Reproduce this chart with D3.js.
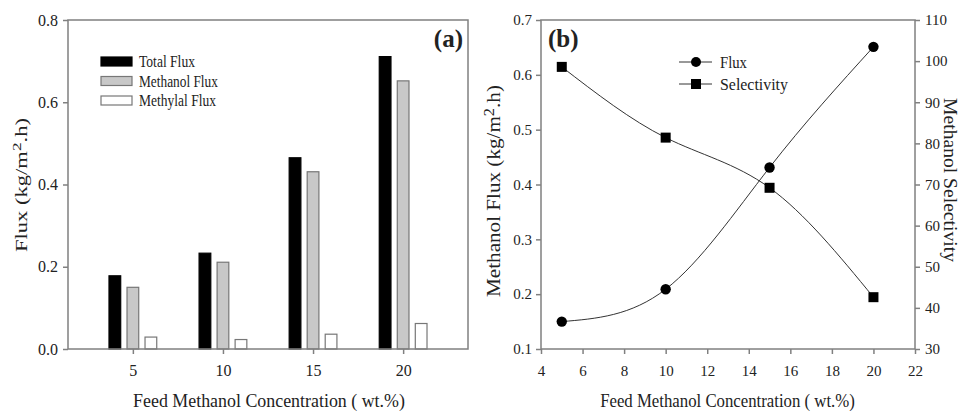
<!DOCTYPE html>
<html>
<head>
<meta charset="utf-8">
<script src="https://cdn.jsdelivr.net/npm/d3@7"></script>
<style>
  html, body { margin: 0; padding: 0; background: #fff; }
  svg { display: block; }
  text { font-family: "Liberation Serif", "Times New Roman", serif; fill: #222; }
</style>
</head>
<body>
<svg id="chart" width="964" height="413"></svg>
<script>
// ---------- DATA ----------
const concentrations = [5, 10, 15, 20];
const totalFlux    = [0.178, 0.233, 0.465, 0.711];
const methanolFlux = [0.150, 0.211, 0.431, 0.652];
const methylalFlux = [0.029, 0.023, 0.036, 0.062];
const fluxB        = [0.150, 0.209, 0.431, 0.651];
const selectivity  = [98.6, 81.4, 69.2, 42.6];
const barSeriesNames = ["Total Flux", "Methanol Flux", "Methylal Flux"];
const lineSeriesNames = ["Flux", "Selectivity"];
const ticksAY = [0.0, 0.2, 0.4, 0.6, 0.8];
const ticksAX = [5, 10, 15, 20];
const ticksBX = [4, 6, 8, 10, 12, 14, 16, 18, 20, 22];
const ticksBYL = [0.1, 0.2, 0.3, 0.4, 0.5, 0.6, 0.7];
const ticksBYR = [30, 40, 50, 60, 70, 80, 90, 100, 110];

const svg = d3.select("#chart");
const axisColor = "#808080";
const fmt1 = d3.format(".1f");

function styleAxis(size) {
  return function (g) {
    g.select(".domain").remove();
    g.selectAll(".tick line").attr("stroke", axisColor).attr("stroke-width", 1.5);
    g.selectAll(".tick text").style("font-size", size + "px")
      .style("font-family", '"Liberation Serif", serif').attr("fill", "#222");
  };
}

// place text at (x,y) with rotation, stretched along its direction to a target length
function fitText(sel, x, y, rot, target) {
  const n = sel.node().getComputedTextLength();
  const s = target / n;
  sel.attr("transform", `translate(${x},${y}) rotate(${rot}) scale(${s},1)`);
  return sel;
}

// ---------- PANEL A ----------
const A = { left: 68, right: 468, top: 20, bottom: 349 };
const xA = d3.scaleLinear().domain([1.4, 23.6]).range([A.left, A.right]);
const yA = d3.scaleLinear().domain([0, 0.8]).range([A.bottom, A.top]);
const barW = 0.65; // in x units
const barOffsets = [-1, 0, 1];
const barFills = ["#000000", "#c8c8c8", "#ffffff"];
const barStrokes = ["#000000", "#777777", "#777777"];
const barData = [totalFlux, methanolFlux, methylalFlux];

const gA = svg.append("g");
barData.forEach((vals, si) => {
  gA.selectAll(null).data(concentrations).enter().append("rect")
    .attr("x", (c) => xA(c + barOffsets[si] - barW / 2))
    .attr("width", (c) => xA(c + barOffsets[si] + barW / 2) - xA(c + barOffsets[si] - barW / 2))
    .attr("y", (c, i) => yA(vals[i]))
    .attr("height", (c, i) => yA(0) - yA(vals[i]))
    .attr("fill", barFills[si])
    .attr("stroke", barStrokes[si])
    .attr("stroke-width", 1.2);
});

gA.append("rect").attr("x", A.left).attr("y", A.top)
  .attr("width", A.right - A.left).attr("height", A.bottom - A.top)
  .attr("fill", "none").attr("stroke", axisColor).attr("stroke-width", 1.5);

gA.append("g").attr("transform", `translate(${A.left},0)`)
  .call(d3.axisLeft(yA).tickValues(ticksAY).tickFormat(fmt1).tickSize(5).tickPadding(5))
  .call(styleAxis(16));
gA.append("g").attr("transform", `translate(0,${A.bottom})`)
  .call(d3.axisBottom(xA).tickValues(ticksAX).tickFormat(d3.format("d")).tickSize(5).tickPadding(11))
  .call(styleAxis(16));

// legend A
const legA = gA.append("g");
const legAWidths = [56, 79, 77];
barSeriesNames.forEach((name, i) => {
  const y0 = 57 + i * 19.5;
  legA.append("rect").attr("x", 101).attr("y", y0).attr("width", 31).attr("height", 9)
    .attr("fill", barFills[i]).attr("stroke", barStrokes[i]).attr("stroke-width", 1.2);
  const t = legA.append("text").style("font-size", "17px").text(name);
  fitText(t, 139, y0 + 10, 0, legAWidths[i]);
});

gA.append("text").attr("x", 463).attr("y", 47).attr("text-anchor", "end")
  .style("font-size", "25px").style("font-weight", "bold").attr("fill", "#000").text("(a)");

// titles A
fitText(gA.append("text").attr("text-anchor", "middle").style("font-size", "19px")
  .text("Feed Methanol Concentration ( wt.%)"), 269, 407, 0, 272);
const tyA = gA.append("text").attr("text-anchor", "middle").style("font-size", "17px");
tyA.append("tspan").text("Flux (kg/m");
tyA.append("tspan").attr("dy", -6).style("font-size", "13px").text("2");
tyA.append("tspan").attr("dy", 6).text(".h)");
fitText(tyA, 27, 185, -90, 134);

// ---------- PANEL B ----------
const B = { left: 541, right: 915, top: 20, bottom: 349 };
const xB = d3.scaleLinear().domain([4, 22]).range([B.left, B.right]);
const yBL = d3.scaleLinear().domain([0.1, 0.7]).range([B.bottom, B.top]);
const yBR = d3.scaleLinear().domain([30, 110]).range([B.bottom, B.top]);
const gB = svg.append("g");

gB.append("rect").attr("x", B.left).attr("y", B.top)
  .attr("width", B.right - B.left).attr("height", B.bottom - B.top)
  .attr("fill", "none").attr("stroke", axisColor).attr("stroke-width", 1.5);

gB.append("g").attr("transform", `translate(${B.left},0)`)
  .call(d3.axisLeft(yBL).tickValues(ticksBYL).tickFormat(fmt1).tickSize(5).tickPadding(4))
  .call(styleAxis(15));
gB.append("g").attr("transform", `translate(${B.right},0)`)
  .call(d3.axisRight(yBR).tickValues(ticksBYR).tickFormat(d3.format("d")).tickSize(5).tickPadding(5))
  .call(styleAxis(15));
gB.append("g").attr("transform", `translate(0,${B.bottom})`)
  .call(d3.axisBottom(xB).tickValues(ticksBX).tickFormat(d3.format("d")).tickSize(5).tickPadding(11))
  .call(styleAxis(15));

const lineL = d3.line().x((d, i) => xB(concentrations[i])).y((d) => yBL(d)).curve(d3.curveNatural);
const lineR = d3.line().x((d, i) => xB(concentrations[i])).y((d) => yBR(d)).curve(d3.curveNatural);
gB.append("path").attr("d", lineL(fluxB)).attr("fill", "none").attr("stroke", "#333").attr("stroke-width", 1);
gB.append("path").attr("d", lineR(selectivity)).attr("fill", "none").attr("stroke", "#333").attr("stroke-width", 1);

gB.selectAll(null).data(fluxB).enter().append("circle")
  .attr("cx", (d, i) => xB(concentrations[i])).attr("cy", (d) => yBL(d)).attr("r", 5.2).attr("fill", "#000");
gB.selectAll(null).data(selectivity).enter().append("rect")
  .attr("x", (d, i) => xB(concentrations[i]) - 5).attr("y", (d) => yBR(d) - 5)
  .attr("width", 10).attr("height", 10).attr("fill", "#000");

// legend B
const legB = gB.append("g");
const legBWidths = [27, 68];
lineSeriesNames.forEach((name, i) => {
  const y0 = 62 + i * 22;
  legB.append("line").attr("x1", 679).attr("x2", 712).attr("y1", y0).attr("y2", y0)
    .attr("stroke", "#333").attr("stroke-width", 1);
  if (i === 0) legB.append("circle").attr("cx", 696).attr("cy", y0).attr("r", 5).attr("fill", "#000");
  else legB.append("rect").attr("x", 691).attr("y", y0 - 5).attr("width", 10).attr("height", 10).attr("fill", "#000");
  const t = legB.append("text").style("font-size", "17px").text(name);
  fitText(t, 720, y0 + 6, 0, legBWidths[i]);
});

gB.append("text").attr("x", 548).attr("y", 47)
  .style("font-size", "25px").style("font-weight", "bold").attr("fill", "#000").text("(b)");

fitText(gB.append("text").attr("text-anchor", "middle").style("font-size", "19px")
  .text("Feed Methanol Concentration ( wt.%)"), 727.5, 407, 0, 255);
const tyB = gB.append("text").attr("text-anchor", "middle").style("font-size", "18px");
tyB.append("tspan").text("Methanol Flux (kg/m");
tyB.append("tspan").attr("dy", -6).style("font-size", "14px").text("2");
tyB.append("tspan").attr("dy", 6).text(".h)");
fitText(tyB, 500, 191, -90, 212);
fitText(gB.append("text").attr("text-anchor", "middle").style("font-size", "18px")
  .text("Methanol Selectivity"), 944, 180, 90, 164);
</script>
</body>
</html>
